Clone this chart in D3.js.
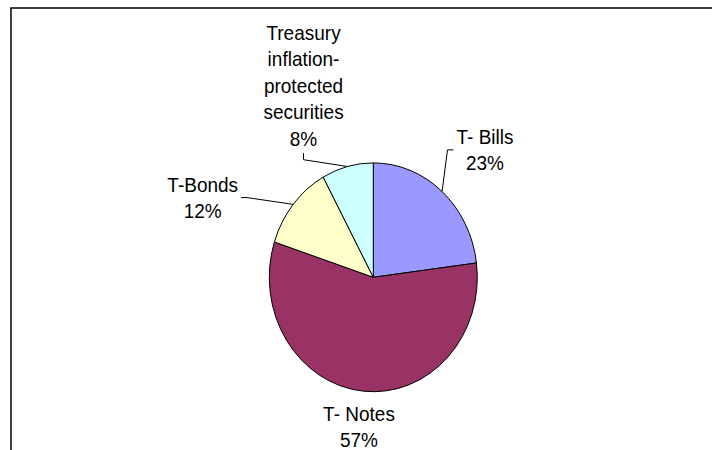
<!DOCTYPE html>
<html>
<head>
<meta charset="utf-8">
<script src="https://cdn.jsdelivr.net/npm/d3@7"></script>
<style>
  html, body { margin: 0; padding: 0; background: #fff; }
  svg { display: block; }
  .lbl { font-family: "Liberation Sans", Arial, sans-serif; font-size: 19px; fill: #000; }
</style>
</head>
<body>
<div id="chart"></div>
<script>
// data
const categories = ["T- Bills", "T- Notes", "T-Bonds", "Treasury inflation-protected securities"];
const values = [23, 57, 12, 8];
const labelLines = [["T- Bills"], ["T- Notes"], ["T-Bonds"], ["Treasury", "inflation-", "protected", "securities"]];
const colors = ["#9999FF", "#993366", "#FFFFCC", "#CCFFFF"];

// layout (label block centre x / first baseline y, relative to pie centre, before the vertical stretch)
const labelLayout = [
    {x: 111.7, y: -121.2, attach: "left"},
    {x: -14.3, y: 130.4, attach: null},
    {x: -170.6, y: -77.8, attach: "right"},
    {x: -69.8, y: -215.7, attach: "bottom"}
];

const width = 712, height = 450,
    cx = 373.3, cy = 277.3,
    radius = 104,
    stretch = 1.1,
    lineH = 24,
    pad = 3,
    stub = 6;

const svg = d3.select("#chart").append("svg")
    .attr("width", width)
    .attr("height", height);

// chart area frame (runs off the right and bottom of the picture)
svg.append("rect")
    .attr("x", 11)
    .attr("y", 8)
    .attr("width", 900)
    .attr("height", 600)
    .attr("fill", "none")
    .attr("stroke", "#000")
    .attr("stroke-width", 1.5);

const g = svg.append("g")
    .attr("transform", "translate(" + cx + "," + cy + ") scale(1," + stretch + ")");

const pie = d3.pie().sort(null).value(d => d);
const arcs = pie(values);

const arc = d3.arc().innerRadius(0).outerRadius(radius);
const edgeArc = d3.arc().innerRadius(radius).outerRadius(radius);
const pct = d3.format(".0%");
const total = d3.sum(values);

g.selectAll("path.slice")
    .data(arcs)
    .enter()
    .append("path")
    .attr("class", "slice")
    .attr("d", arc)
    .attr("fill", (d, i) => colors[i])
    .attr("stroke", "#000")
    .attr("stroke-width", 1)
    .attr("stroke-linejoin", "round")
    .attr("vector-effect", "non-scaling-stroke");

const labels = g.selectAll("text.lbl")
    .data(arcs)
    .enter()
    .append("text")
    .attr("class", "lbl")
    .attr("text-anchor", "middle");

labels.each(function (d, i) {
    let t = d3.select(this);
    let pos = labelLayout[i];
    let lines = labelLines[i].concat([pct(d.value / total)]);
    lines.forEach((s, k) => {
        t.append("tspan")
            .attr("x", pos.x)
            .attr("y", pos.y + k * lineH)
            .text(s);
    });
});

// leader lines from slice edge to the label box
labels.each(function (d, i) {
    let pos = labelLayout[i];
    if (!pos.attach) return;
    let b = this.getBBox();
    let p0 = edgeArc.centroid(d), end, elbow;
    if (pos.attach === "left") {
        end = [b.x - pad, b.y + b.height / 2];
        elbow = [end[0] - stub, end[1]];
    } else if (pos.attach === "right") {
        end = [b.x + b.width + pad, b.y + b.height / 2];
        elbow = [end[0] + stub, end[1]];
    } else {
        end = [b.x + b.width / 2, b.y + b.height + pad];
        elbow = [end[0], end[1] + stub];
    }
    g.append("path")
        .attr("d", d3.line()([p0, elbow, end]))
        .attr("fill", "none")
        .attr("stroke", "#000")
        .attr("stroke-width", 1)
        .attr("vector-effect", "non-scaling-stroke");
});
</script>
</body>
</html>
